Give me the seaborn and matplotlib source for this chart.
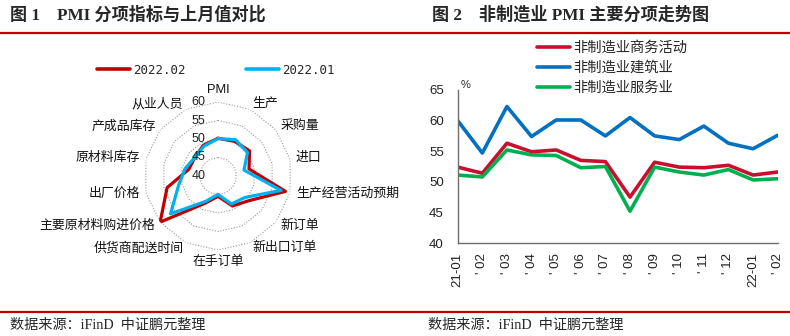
import numpy as np
import pandas as pd
import matplotlib
matplotlib.use("Agg")
import matplotlib.pyplot as plt
from matplotlib.lines import Line2D
import seaborn as sns

# ---------------- data ----------------
radar_cats = ["PMI", "生产", "采购量", "进口", "生产经营活动预期", "新订单", "新出口订单",
              "在手订单", "供货商配送时间", "主要原材料购进价格", "出厂价格", "原材料库存",
              "产成品库存", "从业人员"]
pmi_2022_02 = [50.2, 50.4, 50.9, 48.6, 58.7, 50.7, 49.0, 45.5, 48.2, 60.0, 54.1, 48.1, 48.0, 49.2]
pmi_2022_01 = [50.1, 50.9, 50.2, 47.2, 57.5, 49.3, 48.4, 45.0, 47.6, 56.4, 50.9, 49.1, 48.0, 48.9]
radar_ticks = [40, 45, 50, 55, 60]

month_labels = ["21-01", "' 02", "' 03", "' 04", "' 05", "' 06", "' 07", "' 08",
                "' 09", "' 10", "' 11", "' 12", "22-01", "' 02"]
nonmfg_business = [52.4, 51.4, 56.3, 54.9, 55.2, 53.5, 53.3, 47.5, 53.2, 52.4, 52.3, 52.7, 51.1, 51.6]
nonmfg_construction = [60.0, 54.7, 62.3, 57.4, 60.1, 60.1, 57.5, 60.5, 57.5, 56.9, 59.1, 56.3, 55.4, 57.6]
nonmfg_services = [51.1, 50.8, 55.2, 54.4, 54.3, 52.3, 52.5, 45.2, 52.4, 51.6, 51.1, 52.0, 50.3, 50.5]
series_names = ["非制造业商务活动", "非制造业建筑业", "非制造业服务业"]
line_ticks = [40, 45, 50, 55, 60, 65]

# ---------------- style ----------------
sns.set_theme(style="white")
plt.rcParams["font.family"] = ["Liberation Sans", "Noto Sans CJK SC", "DejaVu Sans"]
plt.rcParams["axes.unicode_minus"] = False

W, H = 790, 336
fig = plt.figure(figsize=(W / 100, H / 100), dpi=100)
fig.patch.set_facecolor("white")

RED = "#C00000"
CYAN = "#00B0F0"
title_font = ["Liberation Serif", "Noto Sans CJK SC"]

# titles, rules, footers
fig.text(10 / W, 1 - 15 / H, "图 1    PMI 分项指标与上月值对比", fontsize=12.3,
         fontweight="bold", family=title_font, va="center", ha="left")
fig.text(432 / W, 1 - 15 / H, "图 2    非制造业 PMI 主要分项走势图", fontsize=12.3,
         fontweight="bold", family=title_font, va="center", ha="left")
fig.add_artist(Line2D([0, 1], [1 - 32.5 / H] * 2, transform=fig.transFigure, color=RED, lw=1.6))
fig.add_artist(Line2D([0, 1], [1 - 312 / H] * 2, transform=fig.transFigure, color=RED, lw=1.6))
fig.text(10 / W, 1 - 325 / H, "数据来源：iFinD  中证鹏元整理", fontsize=10.2,
         family=title_font, va="center", ha="left")
fig.text(428 / W, 1 - 325 / H, "数据来源：iFinD  中证鹏元整理", fontsize=10.2,
         family=title_font, va="center", ha="left")

# ---------------- radar ----------------
cx, cy, rad = 218, 176, 74
axr = fig.add_axes([(cx - rad) / W, (H - cy - rad) / H, 2 * rad / W, 2 * rad / H], projection="polar")
n = len(radar_cats)
theta = np.arange(n) * 2 * np.pi / n
theta_c = np.append(theta, 2 * np.pi)

for r in radar_ticks[1:]:
    axr.plot(theta_c, [r] * (n + 1), color="#9a9a9a", lw=0.8, ls=(0, (1, 1.5)), zorder=0)

df_r = pd.DataFrame({
    "theta": np.concatenate([theta_c, theta_c]),
    "value": pmi_2022_02 + [pmi_2022_02[0]] + pmi_2022_01 + [pmi_2022_01[0]],
    "series": ["2022.02"] * (n + 1) + ["2022.01"] * (n + 1),
})
sns.lineplot(data=df_r, x="theta", y="value", hue="series", sort=False, estimator=None,
             palette={"2022.02": RED, "2022.01": CYAN}, lw=2.3, ax=axr, legend=False)
axr.set_theta_zero_location("N")
axr.set_theta_direction(-1)
axr.set_ylim(40, 60)
axr.set_xticks([])
axr.set_yticks([])
axr.set_xlabel("")
axr.set_ylabel("")
axr.grid(False)
axr.spines["polar"].set_visible(False)
axr.set_facecolor("none")

for v in radar_ticks:
    axr.annotate(str(v), xy=(0, v), xytext=(-9, 0), textcoords="offset points",
                 ha="right", va="center", fontsize=9, color="#222222")

for ang, lab in zip(theta, radar_cats):
    s, c = np.sin(ang), np.cos(ang)
    ha = "left" if s > 0.05 else ("right" if s < -0.05 else "center")
    va = "bottom" if c > 0.95 else ("top" if c < -0.95 else "center")
    axr.text(ang, 61.6, lab, ha=ha, va=va, fontsize=9.3, color="#111111")

handles = [Line2D([], [], color=RED, lw=2.6), Line2D([], [], color=CYAN, lw=2.6)]
fig.legend(handles, ["2022.02", "2022.01"], loc="center left",
           bbox_to_anchor=(97 / W, 1 - 70 / H), ncol=2, frameon=False,
           prop={"family": "DejaVu Sans Mono", "size": 9},
           handlelength=2.6, handletextpad=0.25, columnspacing=4.9,
           borderpad=0, borderaxespad=0)

# ---------------- line chart ----------------
x0, x1, y0, y1 = 457.7, 777.7, 90, 243
axl = fig.add_axes([x0 / W, (H - y1) / H, (x1 - x0) / W, (y1 - y0) / H])
df_l = pd.DataFrame({
    "idx": np.tile(np.arange(len(month_labels)), 3),
    "value": nonmfg_business + nonmfg_construction + nonmfg_services,
    "series": np.repeat(series_names, len(month_labels)),
})
sns.lineplot(data=df_l, x="idx", y="value", hue="series", hue_order=series_names,
             palette=["#C8102E", "#0070C0", "#00B050"], lw=2.6, ax=axl)
axl.set_xlim(0, len(month_labels) - 1)
axl.set_ylim(40, 65)
axl.set_yticks(line_ticks)
axl.set_xticks(np.arange(len(month_labels)))
axl.set_xticklabels(month_labels, rotation=90)
axl.set_xlabel("")
axl.set_ylabel("")
axl.grid(False)
for sp in ["top", "right"]:
    axl.spines[sp].set_visible(False)
for sp in ["left", "bottom"]:
    axl.spines[sp].set_color("#6e6e6e")
    axl.spines[sp].set_linewidth(1.0)
axl.tick_params(axis="both", direction="out", length=3, width=0.8, color="#6e6e6e",
                labelsize=9.5, labelcolor="#222222")
axl.tick_params(axis="y", pad=7)
axl.tick_params(axis="x", pad=4)
axl.text(0.008, 1.0, "%", transform=axl.transAxes, fontsize=8, va="bottom", ha="left")
axl.legend(loc="upper left", bbox_to_anchor=(537 / W, 1 - 41 / H), bbox_transform=fig.transFigure,
           frameon=False, fontsize=10.3, handlelength=2.3, handletextpad=0.2, labelspacing=0.42,
           borderpad=0, borderaxespad=0)

fig.savefig("out.png", dpi=100, facecolor="white")
